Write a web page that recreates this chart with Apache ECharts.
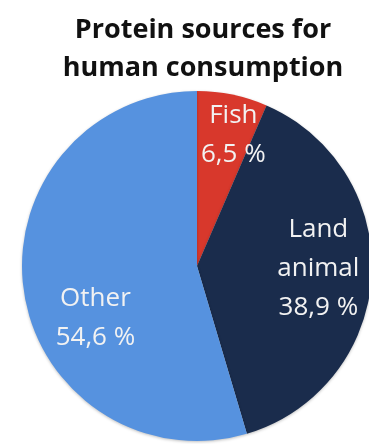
<!DOCTYPE html>
<html>
<head>
<meta charset="utf-8">
<style>
  html, body { margin: 0; padding: 0; background: #ffffff; }
  #chart { width: 369px; height: 444px; }
</style>
<script src="https://cdn.jsdelivr.net/npm/echarts@6/dist/echarts.min.js"></script>
</head>
<body>
<div id="chart"></div>
<script>
// Shares of protein supply by source (percent)
const categories = ['Fish', 'Land animal', 'Other'];
const labelLines = ['Fish', 'Land\nanimal', 'Other'];
const shares = [6.5, 38.9, 54.6];

const sliceColors = ['#d8382c', '#1a2c4c', '#5692df'];
// nudges from the default in-slice label anchor
const labelShift = [[18, -42], [31, -3], [-12, 39]];

function pct(v) {
  return v.toFixed(1).replace('.', ',') + ' %';
}

const chart = echarts.init(document.getElementById('chart'), null, { renderer: 'canvas' });

chart.setOption({
  animation: false,
  title: {
    text: 'Protein sources for\nhuman consumption',
    left: 203,
    top: 11,
    padding: 0,
    textAlign: 'center',
    textStyle: {
      fontFamily: 'Open Sans',
      fontWeight: 'bold',
      fontSize: 27,
      lineHeight: 38,
      color: '#111111'
    }
  },
  series: [{
    type: 'pie',
    center: [197, 266],
    radius: [0, 175],
    startAngle: 90,
    clockwise: true,
    silent: true,
    data: categories.map((name, i) => ({
      name: name,
      value: shares[i],
      itemStyle: { color: sliceColors[i] }
    })),
    itemStyle: {
      borderWidth: 0,
      shadowBlur: 3,
      shadowOffsetY: 1,
      shadowColor: 'rgba(0,0,0,0.25)'
    },
    label: {
      show: true,
      position: 'inside',
      formatter: (p) => labelLines[p.dataIndex] + '\n' + pct(p.value),
      fontFamily: 'Open Sans',
      fontSize: 26,
      lineHeight: 39,
      color: '#f2f2f2',
      align: 'center'
    },
    labelLine: { show: false },
    labelLayout: (p) => ({
      dx: labelShift[p.dataIndex][0],
      dy: labelShift[p.dataIndex][1]
    })
  }]
});
</script>
</body>
</html>
